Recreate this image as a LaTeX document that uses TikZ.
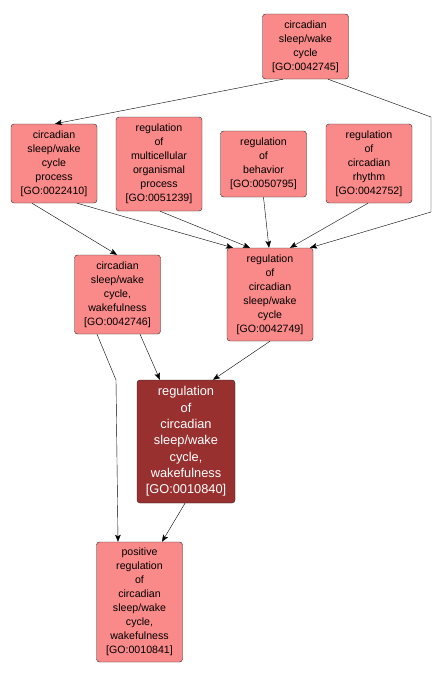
\documentclass[tikz,border=0pt]{standalone}
\usepackage{fontspec}
\setmainfont{Liberation Sans}
\usetikzlibrary{arrows.meta}

\definecolor{gosalmon}{RGB}{250,137,137}
\definecolor{godark}{RGB}{152,48,48}
\newcommand{\gofont}{\fontsize{10.6}{14}\selectfont}
\newcommand{\gobigfont}{\fontsize{12.8}{16.3}\selectfont}

\tikzset{
  goterm/.style={draw=black!85, fill=gosalmon, rounded corners=3pt, align=center,
    font=\gofont, text width=84pt, minimum width=86pt, inner sep=0pt},
  goselected/.style={goterm, fill=godark, text=white, font=\gobigfont,
    text width=96pt, minimum width=98pt},
  isa/.style={-{Stealth[length=7pt,width=5.5pt,inset=1.5pt]}, black, thin}
}

\begin{document}
\begin{tikzpicture}[x=1pt,y=-1pt]
  \useasboundingbox (0,0) rectangle (442,678);

  % terms
  \node[goterm, minimum height=65pt] (sleepcycle) at (305.5,46.5)
    {circadian\\sleep/wake\\cycle\\{[GO:0042745]}};
  \node[goterm, minimum height=79pt] (cycleproc) at (54,163.5)
    {circadian\\sleep/wake\\cycle\\process\\{[GO:0022410]}};
  \node[goterm, minimum height=94pt] (multicell) at (159,164)
    {regulation\\of\\multicellular\\organismal\\process\\{[GO:0051239]}};
  \node[goterm, minimum height=66pt] (behavior) at (263.5,164)
    {regulation\\of\\behavior\\{[GO:0050795]}};
  \node[goterm, minimum height=79pt] (rhythm) at (369,163.5)
    {regulation\\of\\circadian\\rhythm\\{[GO:0042752]}};
  \node[goterm, minimum height=79pt] (wakeful) at (117.5,294.5)
    {circadian\\sleep/wake\\cycle,\\wakefulness\\{[GO:0042746]}};
  \node[goterm, minimum height=93pt] (regcycle) at (270,294.5)
    {regulation\\of\\circadian\\sleep/wake\\cycle\\{[GO:0042749]}};
  \node[goselected, minimum height=123pt] (regwake) at (186,441.5)
    {regulation\\of\\circadian\\sleep/wake\\cycle,\\wakefulness\\{[GO:0010840]}};
  \node[goterm, minimum height=120pt] (posreg) at (139.5,602)
    {positive\\regulation\\of\\circadian\\sleep/wake\\cycle,\\wakefulness\\{[GO:0010841]}};

  % straight is_a edges: from/shift/to/shift
  \foreach \a/\sa/\b/\sb in {sleepcycle/-22.5/cycleproc/1,
      cycleproc/-22/wakeful/-0.5, cycleproc/23/regcycle/-37,
      multicell/1/regcycle/-20, behavior/0/regcycle/-1,
      rhythm/-1/regcycle/20, wakeful/22.5/regwake/-26,
      regcycle/0/regwake/27, regwake/-1/posreg/22.5} {
    \draw[isa] ([xshift=\sa pt]\a.south) -- ([xshift=\sb pt]\b.north);
  }

  % bent edges
  \coordinate (rbend1) at (431,117);
  \coordinate (rbend2) at (431,212);
  \coordinate (lbend) at (116,380);
  \draw[isa] ([xshift=22.5pt]sleepcycle.south) -- (rbend1) -- (rbend2)
    -- ([xshift=40pt]regcycle.north);
  \draw[isa] ([xshift=-20.5pt]wakeful.south) -- (lbend)
    -- ([xshift=-21.5pt]posreg.north);

\end{tikzpicture}
\end{document}
